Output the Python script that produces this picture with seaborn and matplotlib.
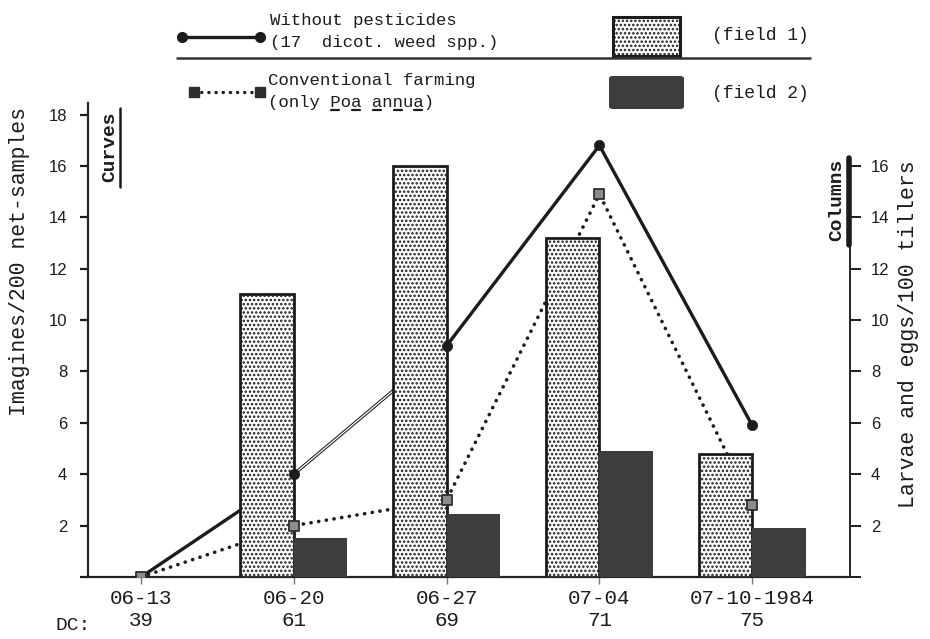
import numpy as np
import pandas as pd
import matplotlib
matplotlib.use("Agg")
import matplotlib.pyplot as plt
from matplotlib.lines import Line2D
from matplotlib.patches import Rectangle, FancyBboxPatch
import seaborn as sns

# Sampling dates and development stages
dates = ["06-13", "06-20", "06-27", "07-04", "07-10-1984"]
dc_stages = ["39", "61", "69", "71", "75"]

# Imagines / 200 net-samples (curves, left axis)
without_pesticides = [0.0, 4.0, 9.0, 16.8, 5.9]
conventional = [0.0, 2.0, 3.0, 14.9, 2.8]

# Larvae and eggs / 100 tillers (columns, right axis)
field1 = [0.0, 11.0, 16.0, 13.2, 4.8]
field2 = [0.0, 1.5, 2.45, 4.9, 1.9]

left_ticks = list(range(0, 19, 2))
right_ticks = list(range(0, 17, 2))

sns.set_style("ticks")
plt.rcParams["font.family"] = ["Liberation Mono", "DejaVu Sans"]
plt.rcParams["hatch.linewidth"] = 1.2
plt.rcParams["axes.linewidth"] = 1.6

INK = "#1c1c1c"
DARK = "#3b3e3b"
SQ_FACE = "#8c8c8c"
SQ_EDGE = "#2e2e2e"
DOTTED = (0, (0.05, 2.1))
W, H = 930, 639
fig = plt.figure(figsize=(W / 100, H / 100), dpi=100)


def fx(px):
    return px / W


def fy(py):
    return 1 - py / H


ax = fig.add_axes([fx(88), fy(577), (850 - 88) / W, (577 - 103) / H])
ax2 = ax.twinx()

pos = np.arange(len(dates))
curves = pd.DataFrame({"pos": pos, "without": without_pesticides, "conv": conventional})

# curves (lines sit behind the columns)
sns.lineplot(data=curves, x="pos", y="conv", ax=ax, color=INK, lw=2.6,
             linestyle=DOTTED, dash_capstyle="round")
sns.lineplot(data=curves, x="pos", y="without", ax=ax, color=INK, lw=2.4)
# the 06-20 -> 06-27 stretch of the solid curve is printed hollow
sns.lineplot(data=curves.iloc[1:3], x="pos", y="without", ax=ax, color="white", lw=0.9)

columns = pd.DataFrame({
    "pos": np.concatenate([pos, pos]),
    "field": ["field 1"] * len(pos) + ["field 2"] * len(pos),
    "value": field1 + field2,
})
sns.barplot(data=columns, x="pos", y="value", hue="field",
            hue_order=["field 1", "field 2"], palette=["white", DARK],
            native_scale=True, width=0.7, gap=0, saturation=1,
            legend=False, ax=ax2)

for bar in ax2.containers[0]:
    bar.set_hatch("....")
    bar.set_edgecolor(INK)
    bar.set_linewidth(2.0)
for bar in ax2.containers[1]:
    bar.set_edgecolor(DARK)
    bar.set_linewidth(0)

ymax = 18.45
for a in (ax, ax2):
    a.set_ylim(0, ymax)
    a.set_xlim(-0.347, 4.64)

# curve markers drawn above the columns (same y scale on both axes)
sns.scatterplot(data=curves, x="pos", y="without", ax=ax2, marker="o", s=55,
                color=INK, edgecolor=INK, linewidth=0.5, zorder=5, legend=False)
sns.scatterplot(data=curves, x="pos", y="conv", ax=ax2, marker="s", s=50,
                color=SQ_FACE, edgecolor=SQ_EDGE, linewidth=1.3, zorder=5, legend=False)

for a in (ax, ax2):
    a.set_xlabel("")
    a.set_ylabel("")

# left axis: curves
ax.set_yticks(left_ticks)
ax.set_yticklabels([""] + [str(t) for t in left_ticks[1:]],
                   family="Liberation Sans", fontsize=12, color=INK)
ax.tick_params(axis="y", length=6, width=1.6, pad=9, color=INK)
ax.spines["top"].set_visible(False)
ax.spines["right"].set_visible(False)

# right axis: columns
ax2.set_yticks(right_ticks)
ax2.set_yticklabels([""] + [str(t) for t in right_ticks[1:]],
                    family="Liberation Sans", fontsize=12, color=INK)
ax2.tick_params(axis="y", length=8, width=1.4, pad=7, color=INK)
for s in ("top", "left", "bottom"):
    ax2.spines[s].set_visible(False)
ax2.spines["right"].set_bounds(0, 16.3)
ax2.spines["right"].set_linewidth(1.4)

ax.set_xticks(pos)
ax.set_xticklabels([f"{d}\n{c}" for d, c in zip(dates, dc_stages)],
                   fontsize=15, color=INK, linespacing=1.2)
ax.tick_params(axis="x", length=5, width=1.0, pad=4, color="#777777")
ax2.tick_params(axis="x", length=0, labelbottom=False)

fig.text(fx(55), fy(626), "DC:", fontsize=14, color=INK, va="center")

fig.text(fx(20), fy(262), "Imagines/200 net-samples", rotation=90,
         fontsize=15.5, color=INK, ha="center", va="center")
fig.text(fx(908), fy(334), "Larvae and eggs/100 tillers", rotation=90,
         fontsize=15.5, color=INK, ha="center", va="center")

fig.text(fx(110), fy(147), "Curves", rotation=90, fontsize=14,
         fontweight="bold", color=INK, ha="center", va="center")
fig.add_artist(Line2D([fx(120), fx(120)], [fy(108), fy(187)], lw=1.8,
                      color=INK, transform=fig.transFigure))
fig.text(fx(837), fy(200), "Columns", rotation=90, fontsize=14,
         fontweight="bold", color=INK, ha="center", va="center")
fig.add_artist(Line2D([fx(849), fx(849)], [fy(158), fy(245)], lw=4,
                      color=INK, transform=fig.transFigure))

# key above the plot
LEG = 12.5
fig.add_artist(Line2D([fx(182), fx(260)], [fy(37), fy(37)], lw=2.4, color=INK,
                      marker="o", markersize=7, transform=fig.transFigure))
fig.text(fx(270), fy(20), "Without pesticides", fontsize=LEG, color=INK, va="center")
fig.text(fx(270), fy(43), "(17  dicot. weed spp.)", fontsize=LEG, color=INK, va="center")
fig.add_artist(Rectangle((fx(613), fy(56)), fx(680) - fx(613), fy(17) - fy(56),
                         facecolor="white", edgecolor=INK, lw=2.2, hatch="....",
                         transform=fig.transFigure))
fig.text(fx(712), fy(36), "(field 1)", fontsize=13, color=INK, va="center")
fig.add_artist(Line2D([fx(177), fx(810)], [fy(58), fy(58)], lw=1.8, color="#333333",
                      transform=fig.transFigure))

fig.add_artist(Line2D([fx(194), fx(260)], [fy(92), fy(92)], lw=2.4, color=INK,
                      linestyle=DOTTED, dash_capstyle="round",
                      marker="s", markersize=7, markerfacecolor=SQ_EDGE,
                      markeredgecolor=SQ_EDGE, transform=fig.transFigure))
fig.text(fx(268), fy(80), "Conventional farming", fontsize=LEG, color=INK, va="center")
poa = fig.text(fx(268), fy(103), "(only Poa annua)", fontsize=LEG, color=INK, va="center")
fig.add_artist(FancyBboxPatch((fx(609), fy(109)), fx(684) - fx(609), fy(76) - fy(109),
                              boxstyle="round,pad=0,rounding_size=0.004",
                              facecolor=DARK, edgecolor=DARK, lw=0,
                              transform=fig.transFigure))
fig.text(fx(712), fy(93), "(field 2)", fontsize=13, color=INK, va="center")

# typewriter-style underline under the species name
fig.canvas.draw()
bb = poa.get_window_extent()
label = "(only Poa annua)"
cw = bb.width / len(label)
for i in (6, 8, 10, 12, 14):
    x0 = bb.x0 + i * cw + 0.12 * cw
    x1 = bb.x0 + (i + 1) * cw - 0.12 * cw
    yb = bb.y0 + 1
    fig.add_artist(Line2D([x0 / W, x1 / W], [yb / H, yb / H], lw=1.6, color=INK,
                          transform=fig.transFigure))

fig.savefig("out.png", dpi=100, facecolor="white")
